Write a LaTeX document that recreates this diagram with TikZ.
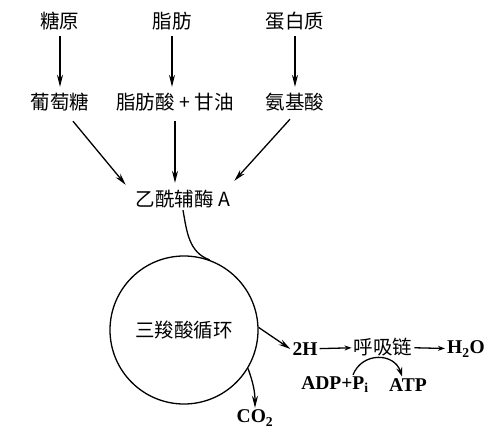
\documentclass[tikz,border=0pt]{standalone}
\usepackage{fontspec}
\setmainfont{Liberation Serif}
\newfontfamily\cjk{Noto Sans CJK SC}
\usetikzlibrary{positioning,arrows.meta}

\begin{document}
\begin{tikzpicture}[>={Stealth[length=12pt,width=6pt]},x=1pt,y=-1pt]
  \tikzstyle{term}=[inner sep=6pt,font=\cjk\fontsize{19.5}{21}\selectfont]
  \tikzstyle{chem}=[inner sep=2pt,font=\bfseries\fontsize{19.5}{21}\selectfont]
  \tikzstyle{flow}=[->,line width=1.3pt]
  \tikzstyle{chainflow}=[->,line width=1.3pt,>={Stealth[length=7pt,width=5pt]}]
  \useasboundingbox (0,0) rectangle (496,439);
  % sources
  \node[term] (glycogen) at (60,21) {糖原};
  \node[term] (fat) at (172,21) {脂肪};
  \node[term] (protein) at (295,21) {蛋白质};
  \node[term] (glucose) at (60,102) {葡萄糖};
  \node[term] (fatacid) at (175,102) {脂肪酸 + 甘油};
  \node[term] (amino) at (295,102) {氨基酸};
  \node[term,inner sep=2pt] (acoa) at (183,199) {乙酰辅酶 A};
  \draw[flow] (glycogen) -- (glucose);
  \draw[flow] (fat) -- (fat |- fatacid.north);
  \draw[flow] (protein) -- (amino);
  \draw[flow] ([shift={(13,4)}]glucose.south) -- ([shift={(-8,-3)}]acoa.north west);
  \draw[flow] ([yshift=-4pt]fatacid.south) -- ([yshift=5pt]fatacid.south |- acoa.north);
  \draw[flow] ([shift={(-5,2)}]amino.south) -- ([shift={(2,-7)}]acoa.north east);
  % cycle
  \node[circle,draw,line width=1.3pt,minimum size=148pt,term] (tca) at (184,330) {三羧酸循环};
  \draw[line width=1.3pt] (acoa.south) to[out=-80,in=160] (tca.70);
  \node[chem] (h) at (305,349) {2H};
  \node[chem] (co2) at (255,418) {CO\textsubscript{2}};
  \draw[flow] (tca.2) -- (h.west);
  \draw[flow] (tca.-31) to[bend left=10] (co2.north);
  % respiratory chain
  \node[term,inner sep=2pt] (chain) at (383,347) {呼吸链};
  \node[chem] (water) at (466,349) {H\textsubscript{2}O};
  \node[chem] (adp) at (335,385) {ADP+P\textsubscript{i}};
  \node[chem] (atp) at (408,385) {ATP};
  \draw[chainflow] (h) -- (chain);
  \draw[chainflow] (chain) -- (water);
  \draw[flow,>={Stealth[length=9pt,width=6pt]}] ([xshift=18pt]adp.north) to[bend left=70,looseness=1.3] ([xshift=-6pt]atp.north);
\end{tikzpicture}
\end{document}
